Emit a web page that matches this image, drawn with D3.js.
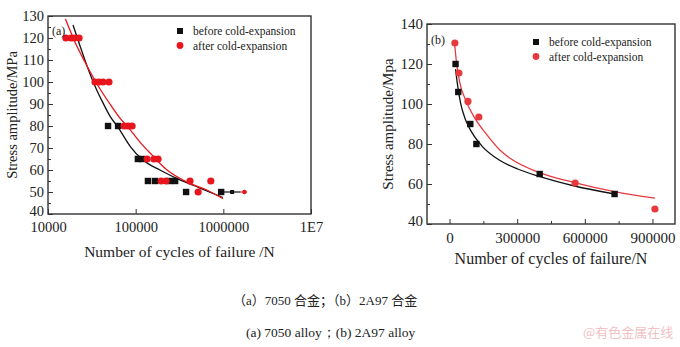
<!DOCTYPE html>
<html>
<head>
<meta charset="utf-8">
<script src="https://cdn.jsdelivr.net/npm/d3@7"></script>
<style>
  body { margin: 0; background: #fff; }
</style>
</head>
<body>
<script>
// ---- data, panel (a): 7050 alloy, log N ----
var aBeforeN = [48400, 63000, 106000, 118000, 138000, 166000, 245000, 282000, 376000, 945000];
var aBeforeS = [80, 80, 65, 65, 55, 55, 55, 55, 50, 50];
var aAfterN = [16000, 18300, 19800, 22600, 34400, 38200, 42400, 49600, 73800, 81800, 91000,
  135000, 162000, 180000, 195000, 222000, 417000, 720000, 516000];
var aAfterS = [120, 120, 120, 120, 100, 100, 100, 100, 80, 80, 80, 65, 65, 65, 55, 55, 55, 55, 50];
// fitted curves
var aBeforeFitN = [19300, 23200, 27900, 34300, 42400, 50900, 62800, 86100, 121000, 189000, 320000, 541000, 989000];
var aBeforeFitS = [125.9, 116.4, 107.3, 98.2, 90.5, 84.5, 79.5, 70.9, 64.5, 60, 55.5, 51.8, 47.5];
var aAfterFitN = [15800, 20300, 26400, 36200, 50900, 66200, 81700, 112000, 146000, 228000, 385000, 650000, 989000];
var aAfterFitS = [128.6, 118.2, 109.1, 99.1, 90, 83.6, 79.5, 72.7, 67.7, 60, 54.5, 50.9, 47];
// run-out (not failed) specimens at 50 MPa
var aRunBeforeN = [945000, 1260000, 1550000];
var aRunAfterN = [1550000, 1740000, 1850000];
var aRunS = 50;
var aXTicks = [1e4, 1e5, 1e6, 1e7];
var aYTicks = [40, 50, 60, 70, 80, 90, 100, 110, 120, 130];

// ---- data, panel (b): 2A97 alloy, linear N ----
var bBeforeN = [26700, 38700, 92000, 119000, 400000, 732000];
var bBeforeS = [120, 106, 90, 80, 65, 55];
var bAfterN = [23600, 41500, 81600, 130000, 557000, 911000];
var bAfterS = [130.5, 115.5, 101.3, 93.5, 60.5, 47.5];
var bBeforeFitN = [26700, 34300, 49000, 71300, 101000, 146000, 220000, 302000, 398000, 554000, 732000];
var bBeforeFitS = [117.4, 110.4, 100.4, 92, 85.4, 78.7, 72, 67.5, 63.8, 59, 55];
var bAfterFitN = [22300, 31200, 45900, 71300, 108000, 160000, 223000, 272000, 398000, 554000, 732000, 911000];
var bAfterFitS = [130.4, 120.4, 110.4, 102, 93.7, 85.4, 77, 72.6, 65.7, 60.7, 56.2, 52.9];
var bXTicks = [0, 300000, 600000, 900000];
var bYTicks = [40, 60, 80, 100, 120, 140];

var legendLabels = ['before cold-expansion', 'after cold-expansion'];
var black = '#111', red = '#e8161c', redB = '#e63a3f';
var serif = '"Liberation Serif", "Times New Roman", "DejaVu Serif", serif';

var svg = d3.select('body').append('svg')
  .attr('width', 680).attr('height', 347)
  .style('font-family', serif);

function zip(ns, ss) { return ns.map((n, i) => ({ n: n, s: ss[i] })); }

function frame(x, y) {
  svg.append('rect')
    .attr('x', x.range()[0]).attr('y', y.range()[1])
    .attr('width', x.range()[1] - x.range()[0])
    .attr('height', y.range()[0] - y.range()[1])
    .attr('fill', 'none').attr('stroke', '#333').attr('stroke-width', 1.4);
}

function styleAxis(g, size) {
  g.attr('font-family', null);
  g.select('.domain').remove();
  g.selectAll('line').attr('stroke', '#333').attr('stroke-width', 1);
  g.selectAll('text').style('font-family', serif).style('font-size', size + 'px').attr('fill', '#222');
}

function label(x, y, t, size) {
  return svg.append('text').attr('x', x).attr('y', y)
    .style('font-family', serif).style('font-size', size + 'px')
    .attr('fill', '#222').text(t);
}

function drawPanel(p) {
  var x = p.x, y = p.y;

  // minor ticks
  svg.append('g').attr('transform', 'translate(0,' + y.range()[0] + ')')
    .call(d3.axisBottom(x).tickValues(p.xMinor).tickSize(-3).tickFormat(''))
    .call(g => styleAxis(g, 0));
  svg.append('g').attr('transform', 'translate(' + x.range()[0] + ',0)')
    .call(d3.axisLeft(y).tickValues(p.yMinor).tickSize(-3).tickFormat(''))
    .call(g => styleAxis(g, 0));

  // major ticks + labels
  svg.append('g').attr('transform', 'translate(0,' + y.range()[0] + ')')
    .call(d3.axisBottom(x).tickValues(p.xTicks).tickSizeInner(-5).tickSizeOuter(0)
      .tickPadding(8).tickFormat(p.xFormat))
    .call(g => styleAxis(g, p.fs));
  svg.append('g').attr('transform', 'translate(' + x.range()[0] + ',0)')
    .call(d3.axisLeft(y).tickValues(p.yTicks).tickSizeInner(-5).tickSizeOuter(0)
      .tickPadding(4))
    .call(g => styleAxis(g, p.fs))
    // lowest label sits right on the corner; lift it a little
    .call(g => g.selectAll('text').filter(d => d === y.domain()[0]).attr('y', -3));

  frame(x, y);

  var line = d3.line().x(d => x(d.n)).y(d => y(d.s)).curve(d3.curveMonotoneX);
  svg.append('path').datum(p.beforeFit).attr('d', line)
    .attr('fill', 'none').attr('stroke', black).attr('stroke-width', 1.3);
  svg.append('path').datum(p.afterFit).attr('d', line)
    .attr('fill', 'none').attr('stroke', p.red).attr('stroke-width', 1.3);

  // points
  svg.append('g').selectAll('rect').data(p.before).enter().append('rect')
    .attr('x', d => x(d.n) - 3.2).attr('y', d => y(d.s) - 3.2)
    .attr('width', 6.4).attr('height', 6.4).attr('fill', black);
  svg.append('g').selectAll('circle').data(p.after).enter().append('circle')
    .attr('cx', d => x(d.n)).attr('cy', d => y(d.s)).attr('r', 3.6)
    .attr('fill', p.red);

  // axis titles
  label(0, 0, p.yTitle, p.fs)
    .attr('transform', 'translate(' + p.yTitleX + ',' + (y.range()[0] + y.range()[1]) / 2 + ') rotate(-90)')
    .attr('text-anchor', 'middle').attr('dy', '0.35em');
  label((x.range()[0] + x.range()[1]) / 2, p.xTitleY, p.xTitle, p.fs + 1)
    .attr('text-anchor', 'middle');

  // panel tag
  label(p.tag[0], p.tag[1], p.tagText, 12);

  // legend
  var lx = p.legend[0], ly = p.legend[1];
  svg.append('rect').attr('x', lx - 3).attr('y', ly - 3).attr('width', 6).attr('height', 6).attr('fill', black);
  svg.append('circle').attr('cx', lx).attr('cy', ly + 14.5).attr('r', 3.4).attr('fill', p.red);
  legendLabels.forEach((t, i) => {
    label(lx + 13, ly + i * 14.5, t, 11.5).attr('dy', '0.35em');
  });
}

// panel (a)
var xa = d3.scaleLog().domain([1e4, 1e7]).range([48, 311]);
var ya = d3.scaleLinear().domain([40, 130]).range([214, 16]);
drawPanel({
  x: xa, y: ya, fs: 14.5, red: red,
  xTicks: aXTicks, xMinor: [], xFormat: d => d === 1e7 ? '1E7' : String(d),
  yTicks: aYTicks, yMinor: d3.range(45, 130, 10),
  before: zip(aBeforeN, aBeforeS), after: zip(aAfterN, aAfterS),
  beforeFit: zip(aBeforeFitN, aBeforeFitS), afterFit: zip(aAfterFitN, aAfterFitS),
  yTitle: 'Stress amplitude/MPa', yTitleX: 12,
  xTitle: 'Number of cycles of failure /N', xTitleY: 257,
  tag: [52, 35], tagText: '(a)', legend: [180, 31]
});

// run-out arrows in (a)
svg.append('line').attr('x1', xa(aRunBeforeN[0])).attr('x2', xa(aRunBeforeN[2]))
  .attr('y1', ya(aRunS)).attr('y2', ya(aRunS)).attr('stroke', black).attr('stroke-width', 1.2);
svg.append('rect').attr('x', xa(aRunBeforeN[1]) - 2).attr('y', ya(aRunS) - 2)
  .attr('width', 4).attr('height', 4).attr('fill', black);
svg.append('line').attr('x1', xa(aRunAfterN[0])).attr('x2', xa(aRunAfterN[2]))
  .attr('y1', ya(aRunS)).attr('y2', ya(aRunS)).attr('stroke', red).attr('stroke-width', 1.2);
svg.append('circle').attr('cx', xa(aRunAfterN[1])).attr('cy', ya(aRunS)).attr('r', 2.2).attr('fill', red);

// panel (b)
var xb = d3.scaleLinear().domain([-100000, 1000000]).range([427, 675]);
var yb = d3.scaleLinear().domain([40, 140]).range([224, 24]);
drawPanel({
  x: xb, y: yb, fs: 15, red: redB,
  xTicks: bXTicks, xMinor: d3.range(-150000, 1000000, 300000).filter(d => d > -100000),
  xFormat: d => String(d),
  yTicks: bYTicks, yMinor: d3.range(50, 140, 20),
  before: zip(bBeforeN, bBeforeS), after: zip(bAfterN, bAfterS),
  beforeFit: zip(bBeforeFitN, bBeforeFitS), afterFit: zip(bAfterFitN, bAfterFitS),
  yTitle: 'Stress amplitude/Mpa', yTitleX: 388,
  xTitle: 'Number of cycles of failure/N', xTitleY: 264,
  tag: [431, 44], tagText: '(b)', legend: [536, 42]
});

// captions
label(233, 305, '（a）7050 合金；（b）2A97 合金', 13)
  .style('font-family', '"Liberation Serif", "Noto Sans CJK SC", serif');
label(246, 337, '(a) 7050 alloy；(b) 2A97 alloy', 13.5);
label(583, 337, '@有色金属在线', 13)
  .style('font-family', '"Noto Sans CJK SC", sans-serif')
  .attr('fill', '#f0c2c4');
</script>
</body>
</html>
